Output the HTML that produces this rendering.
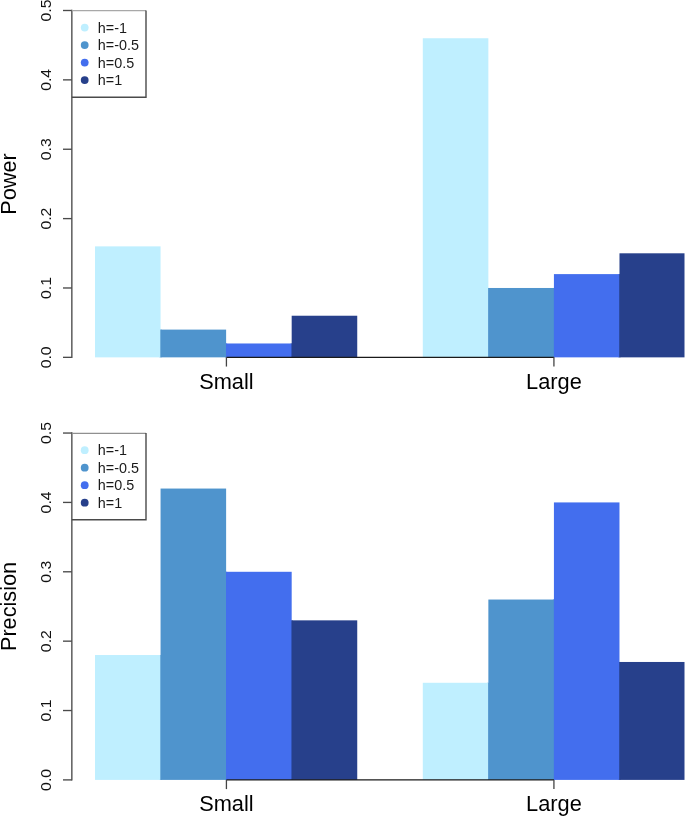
<!DOCTYPE html>
<html><head><meta charset="utf-8"><style>
html,body{margin:0;padding:0;background:#fff;}
svg{display:block;will-change:transform;}
text{font-family:"Liberation Sans",sans-serif;fill:#000;}
.tl{font-size:15.8px;fill:#111;}
.cl{font-size:21.8px;}
.yt{font-size:21.7px;}
.le{font-size:14.6px;fill:#1a1a1a;}
.ax{stroke:#4a4a4a;stroke-width:1.35;fill:none;}
.xa{stroke:#1a1a1a;stroke-width:1.3;fill:none;}
.xt{stroke:#444;stroke-width:1.3;fill:none;}
.lg{stroke:#4a4a4a;stroke-width:1.4;fill:none;}
.lgt{stroke:#999;stroke-width:1.1;fill:none;}
</style></head><body>
<svg width="685" height="816" viewBox="0 0 685 816">
<rect width="685" height="816" fill="#fff"/>
<rect x="159.56" y="329.60" width="2" height="27.75" fill="#4F94CD"/>
<rect x="225.12" y="343.48" width="2" height="13.87" fill="#436EEE"/>
<rect x="290.68" y="343.48" width="2" height="13.87" fill="#27408B"/>
<rect x="487.36" y="287.98" width="2" height="69.37" fill="#4F94CD"/>
<rect x="552.92" y="287.98" width="2" height="69.37" fill="#436EEE"/>
<rect x="618.48" y="274.11" width="2" height="83.24" fill="#27408B"/>
<rect x="95.00" y="246.36" width="65.56" height="110.99" fill="#BFEFFF"/>
<rect x="160.56" y="329.60" width="65.56" height="27.75" fill="#4F94CD"/>
<rect x="226.12" y="343.48" width="65.56" height="13.87" fill="#436EEE"/>
<rect x="291.68" y="315.73" width="65.56" height="41.62" fill="#27408B"/>
<rect x="422.80" y="38.25" width="65.56" height="319.10" fill="#BFEFFF"/>
<rect x="488.36" y="287.98" width="65.56" height="69.37" fill="#4F94CD"/>
<rect x="553.92" y="274.11" width="65.56" height="83.24" fill="#436EEE"/>
<rect x="619.48" y="253.30" width="65.02" height="104.06" fill="#27408B"/>
<path d="M71.85 9.80V358.05" class="ax"/>
<path d="M63 357.35H71.85" class="ax"/>
<text class="tl" transform="translate(51,357.35) rotate(-90) scale(1,0.92)" text-anchor="middle">0.0</text>
<path d="M63 287.98H71.85" class="ax"/>
<text class="tl" transform="translate(51,287.98) rotate(-90) scale(1,0.92)" text-anchor="middle">0.1</text>
<path d="M63 218.61H71.85" class="ax"/>
<text class="tl" transform="translate(51,218.61) rotate(-90) scale(1,0.92)" text-anchor="middle">0.2</text>
<path d="M63 149.24H71.85" class="ax"/>
<text class="tl" transform="translate(51,149.24) rotate(-90) scale(1,0.92)" text-anchor="middle">0.3</text>
<path d="M63 79.87H71.85" class="ax"/>
<text class="tl" transform="translate(51,79.87) rotate(-90) scale(1,0.92)" text-anchor="middle">0.4</text>
<path d="M63 10.50H71.85" class="ax"/>
<text class="tl" transform="translate(51,10.50) rotate(-90) scale(1,0.92)" text-anchor="middle">0.5</text>
<path d="M226.42 357.35H553.92" class="xa"/>
<path d="M226.42 357.35V366.55" class="xt"/>
<text class="cl" transform="translate(226.42,388.75) scale(1,1.035)" text-anchor="middle">Small</text>
<path d="M553.92 357.35V366.55" class="xt"/>
<text class="cl" transform="translate(553.92,388.75) scale(1,1.035)" text-anchor="middle">Large</text>
<text class="yt" transform="translate(15.7,183.93) rotate(-90)" text-anchor="middle">Power</text>
<path d="M71.85 10.55H146.0" stroke="#a8a8a8" stroke-width="1.2" fill="none"/>
<path d="M146.0 10.50V97.20H71.85" class="lg"/>
<circle cx="84.7" cy="27.60" r="3.9" fill="#BFEFFF"/>
<text class="le" transform="translate(97.8,32.80) scale(0.985,1)">h=-1</text>
<circle cx="84.7" cy="45.10" r="3.9" fill="#4F94CD"/>
<text class="le" transform="translate(97.8,50.30) scale(0.985,1)">h=-0.5</text>
<circle cx="84.7" cy="62.60" r="3.9" fill="#436EEE"/>
<text class="le" transform="translate(97.8,67.80) scale(0.985,1)">h=0.5</text>
<circle cx="84.7" cy="80.10" r="3.9" fill="#27408B"/>
<text class="le" transform="translate(97.8,85.30) scale(0.985,1)">h=1</text>
<rect x="159.56" y="655.03" width="2" height="124.87" fill="#4F94CD"/>
<rect x="225.12" y="571.79" width="2" height="208.11" fill="#436EEE"/>
<rect x="290.68" y="620.35" width="2" height="159.55" fill="#27408B"/>
<rect x="487.36" y="682.78" width="2" height="97.12" fill="#4F94CD"/>
<rect x="552.92" y="599.54" width="2" height="180.36" fill="#436EEE"/>
<rect x="618.48" y="661.97" width="2" height="117.93" fill="#27408B"/>
<rect x="95.00" y="655.03" width="65.56" height="124.87" fill="#BFEFFF"/>
<rect x="160.56" y="488.55" width="65.56" height="291.35" fill="#4F94CD"/>
<rect x="226.12" y="571.79" width="65.56" height="208.11" fill="#436EEE"/>
<rect x="291.68" y="620.35" width="65.56" height="159.55" fill="#27408B"/>
<rect x="422.80" y="682.78" width="65.56" height="97.12" fill="#BFEFFF"/>
<rect x="488.36" y="599.54" width="65.56" height="180.36" fill="#4F94CD"/>
<rect x="553.92" y="502.42" width="65.56" height="277.48" fill="#436EEE"/>
<rect x="619.48" y="661.97" width="65.02" height="117.93" fill="#27408B"/>
<path d="M71.85 432.35V780.60" class="ax"/>
<path d="M63 779.90H71.85" class="ax"/>
<text class="tl" transform="translate(51,779.90) rotate(-90) scale(1,0.92)" text-anchor="middle">0.0</text>
<path d="M63 710.53H71.85" class="ax"/>
<text class="tl" transform="translate(51,710.53) rotate(-90) scale(1,0.92)" text-anchor="middle">0.1</text>
<path d="M63 641.16H71.85" class="ax"/>
<text class="tl" transform="translate(51,641.16) rotate(-90) scale(1,0.92)" text-anchor="middle">0.2</text>
<path d="M63 571.79H71.85" class="ax"/>
<text class="tl" transform="translate(51,571.79) rotate(-90) scale(1,0.92)" text-anchor="middle">0.3</text>
<path d="M63 502.42H71.85" class="ax"/>
<text class="tl" transform="translate(51,502.42) rotate(-90) scale(1,0.92)" text-anchor="middle">0.4</text>
<path d="M63 433.05H71.85" class="ax"/>
<text class="tl" transform="translate(51,433.05) rotate(-90) scale(1,0.92)" text-anchor="middle">0.5</text>
<path d="M226.42 779.90H553.92" class="xa"/>
<path d="M226.42 779.90V789.10" class="xt"/>
<text class="cl" transform="translate(226.42,811.30) scale(1,1.035)" text-anchor="middle">Small</text>
<path d="M553.92 779.90V789.10" class="xt"/>
<text class="cl" transform="translate(553.92,811.30) scale(1,1.035)" text-anchor="middle">Large</text>
<text class="yt" transform="translate(15.7,606.48) rotate(-90)" text-anchor="middle">Precision</text>
<path d="M71.85 433.40H146.0" stroke="#909090" stroke-width="1.2" fill="none"/>
<path d="M146.0 433.05V519.75H71.85" class="lg"/>
<circle cx="84.7" cy="450.15" r="3.9" fill="#BFEFFF"/>
<text class="le" transform="translate(97.8,455.35) scale(0.985,1)">h=-1</text>
<circle cx="84.7" cy="467.65" r="3.9" fill="#4F94CD"/>
<text class="le" transform="translate(97.8,472.85) scale(0.985,1)">h=-0.5</text>
<circle cx="84.7" cy="485.15" r="3.9" fill="#436EEE"/>
<text class="le" transform="translate(97.8,490.35) scale(0.985,1)">h=0.5</text>
<circle cx="84.7" cy="502.65" r="3.9" fill="#27408B"/>
<text class="le" transform="translate(97.8,507.85) scale(0.985,1)">h=1</text>
</svg>
</body></html>
